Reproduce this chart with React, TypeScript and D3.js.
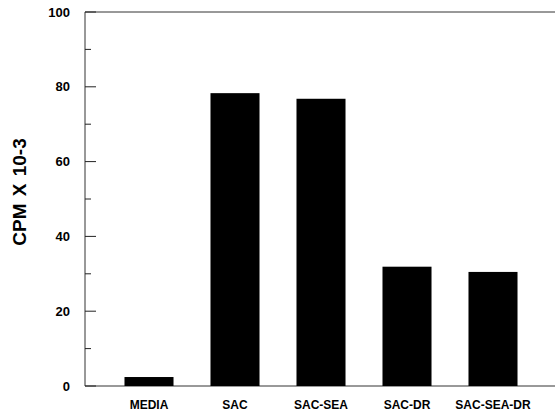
import { useEffect, useRef } from "react"
import * as d3 from "d3"

const categorias = ["MEDIA", "SAC", "SAC-SEA", "SAC-DR", "SAC-SEA-DR"]
const valores = [2.4, 78.3, 76.8, 31.9, 30.5]
const ticksMayores = [0, 20, 40, 60, 80, 100]
const ticksMenores = [10, 30, 50, 70, 90]

export default function App() {
  const svgRef = useRef<SVGSVGElement>(null)

  useEffect(() => {
    if (!svgRef.current) return
    const svg = d3.select(svgRef.current)
    svg.selectAll("*").remove()

    const width = 555
    const height = 412
    const margin = { top: 12, right: 0, bottom: 26, left: 85 }
    const font = "'Liberation Sans', Arial, sans-serif"

    const yScale = d3.scaleLinear().domain([0, 100]).range([height - margin.bottom, margin.top])
    const xScale = d3
      .scaleBand<string>()
      .domain(categorias)
      .range([106, 536])
      .paddingInner(0.43)
      .paddingOuter(0.215)

    // Marco
    svg
      .append("line")
      .attr("x1", margin.left)
      .attr("x2", width)
      .attr("y1", yScale(100))
      .attr("y2", yScale(100))
      .attr("stroke", "#333")
      .attr("stroke-width", 1)
    svg
      .append("line")
      .attr("x1", margin.left)
      .attr("x2", width)
      .attr("y1", yScale(0))
      .attr("y2", yScale(0))
      .attr("stroke", "#333")
      .attr("stroke-width", 1)
    svg
      .append("line")
      .attr("x1", margin.left)
      .attr("x2", margin.left)
      .attr("y1", yScale(100))
      .attr("y2", yScale(0))
      .attr("stroke", "#333")
      .attr("stroke-width", 1)

    // Ticks
    ticksMayores.forEach((t) => {
      svg
        .append("line")
        .attr("x1", margin.left)
        .attr("x2", margin.left + 11)
        .attr("y1", yScale(t))
        .attr("y2", yScale(t))
        .attr("stroke", "#222")
      svg
        .append("text")
        .attr("x", 70)
        .attr("y", yScale(t))
        .attr("dy", "0.36em")
        .attr("text-anchor", "end")
        .style("font-family", font)
        .style("font-weight", "bold")
        .style("font-size", "13px")
        .text(t)
    })
    ticksMenores.forEach((t) => {
      svg
        .append("line")
        .attr("x1", margin.left)
        .attr("x2", margin.left + 6)
        .attr("y1", yScale(t))
        .attr("y2", yScale(t))
        .attr("stroke", "#222")
    })

    // Barras
    svg
      .selectAll(".barra")
      .data(valores)
      .enter()
      .append("rect")
      .attr("class", "barra")
      .attr("x", (_, i) => xScale(categorias[i])!)
      .attr("width", xScale.bandwidth())
      .attr("y", (d) => yScale(d))
      .attr("height", (d) => yScale(0) - yScale(d))
      .attr("fill", "#000")

    // Etiquetas de categoria
    svg
      .selectAll(".cat")
      .data(categorias)
      .enter()
      .append("text")
      .attr("class", "cat")
      .attr("x", (d) => xScale(d)! + xScale.bandwidth() / 2)
      .attr("y", 409)
      .attr("text-anchor", "middle")
      .style("font-family", font)
      .style("font-weight", "bold")
      .style("font-size", "12px")
      .text((d) => d)

    // Titulo eje Y
    svg
      .append("text")
      .attr("transform", `translate(19, 192) rotate(-90)`)
      .attr("dy", "0.36em")
      .attr("text-anchor", "middle")
      .style("font-family", font)
      .style("font-weight", "bold")
      .style("font-size", "19px")
      .style("word-spacing", "2px")
      .text("CPM X 10-3")
  }, [])

  return (
    <svg
      ref={svgRef}
      width={555}
      height={412}
      style={{ position: "absolute", left: 0, top: 0, background: "#fff" }}
    />
  )
}
